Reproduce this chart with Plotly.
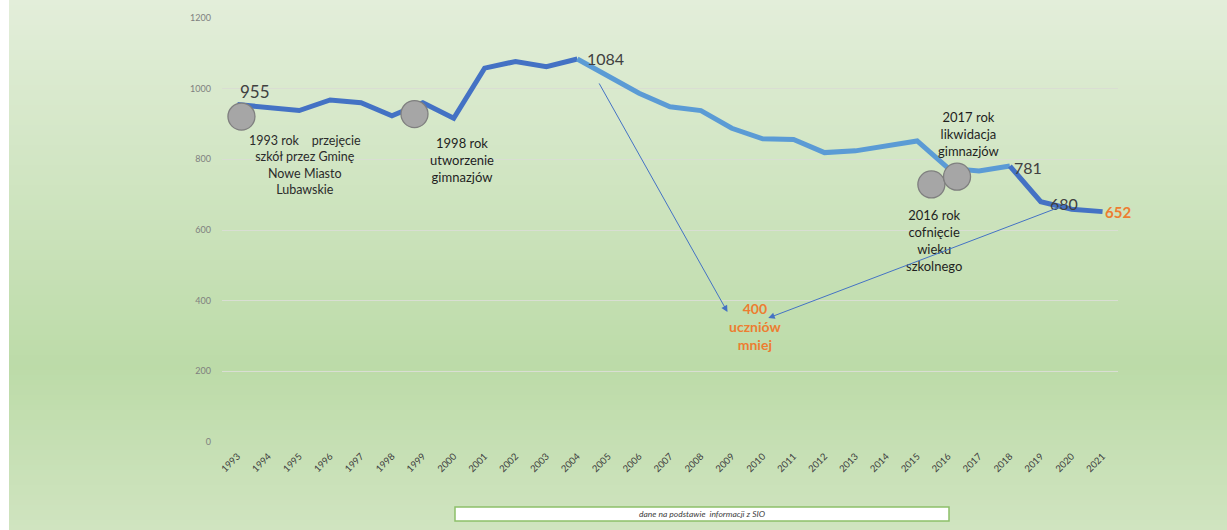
import plotly.graph_objects as go

# ---- data ----
years = list(range(1993, 2022))
students = [955, 948, 938, 968, 960, 923, 960, 916, 1058, 1077, 1062, 1084,
            1034, 987, 949, 938, 888, 858, 856, 819, 824, 838, 852,
            775, 767, 781, 680, 659, 652]
y_ticks = [0, 200, 400, 600, 800, 1000, 1200]

# line colouring periods (start year, end year, colour)
segments = [(1993, 2004, "#4472C4"), (2004, 2018, "#5B9BD5"), (2018, 2021, "#4472C4")]

# grey event markers (x, y)
event_x = [1993.13, 1998.73, 2015.46, 2016.29]
event_y = [921, 928, 729, 751]

# ---- layout geometry ----
W, H = 1227, 530
L, R, T, B = 222, 109, 18, 88
pw, ph = W - L - R, H - T - B

def px_x(px):
    return (px - L) / pw

def px_y(py):
    return (H - B - py) / ph

fig = go.Figure()

for (a, b, col) in segments:
    xs = [y for y in years if a <= y <= b]
    vs = [students[years.index(y)] for y in xs]
    fig.add_trace(go.Scatter(x=xs, y=vs, mode="lines",
                             line=dict(color=col, width=5),
                             hoverinfo="skip", showlegend=False))

fig.add_trace(go.Scatter(x=event_x, y=event_y, mode="markers",
                         marker=dict(size=27, color="#A6A6A6",
                                     line=dict(color="#7F7F7F", width=1.3)),
                         hoverinfo="skip", showlegend=False))

# ---- background gradient (vertical) ----
def lerp(c1, c2, t):
    return tuple(int(round(c1[i] + (c2[i] - c1[i]) * t)) for i in range(3))

stops = [(0, (227, 238, 218)), (367, (188, 219, 168)), (530, (208, 228, 192))]
shapes = []
step = 5
for y0 in range(0, H, step):
    ym = y0 + step / 2
    for k in range(len(stops) - 1):
        if stops[k][0] <= ym <= stops[k + 1][0]:
            t = (ym - stops[k][0]) / (stops[k + 1][0] - stops[k][0])
            c = lerp(stops[k][1], stops[k + 1][1], t)
            break
    shapes.append(dict(type="rect", xref="paper", yref="paper",
                       x0=px_x(9), x1=px_x(W + 2), y0=px_y(y0 + step + 0.5), y1=px_y(y0),
                       fillcolor="rgb(%d,%d,%d)" % c, line=dict(width=0), layer="below"))

# caption box
shapes.append(dict(type="rect", xref="paper", yref="paper",
                   x0=px_x(455), x1=px_x(949), y0=px_y(521), y1=px_y(507),
                   fillcolor="white", line=dict(color="#8DC06A", width=1.5), layer="above"))

FONT = "Lato, 'Open Sans', sans-serif"
dark = "#404040"
orange = "#ED7D31"

annotations = []

def txt(x, y, text, size=13, color="#262626", bold=False):
    annotations.append(dict(x=x, y=y, xref="x", yref="y", text=("<b>%s</b>" % text) if bold else text,
                            showarrow=False, align="center",
                            font=dict(family=FONT, size=size, color=color)))

txt(1993.58, 991, "955", 17, dark)
txt(2004.9, 1084, "1084", 16, dark)
txt(2018.6, 778, "781", 16, dark)
txt(2019.75, 676, "680", 16, dark)
txt(2021.5, 651, "652", 15, orange, bold=True)
txt(1995.2, 784, "1993 rok    przejęcie<br>szkół przez Gminę<br>Nowe Miasto<br>Lubawskie", 12.5, "#2b2b2b")
txt(2000.28, 798, "1998 rok<br>utworzenie<br>gimnazjów", 13, "#1f1f1f")
txt(2016.66, 872, "2017 rok<br>likwidacja<br>gimnazjów", 13, "#1f1f1f")
txt(2015.56, 569, "2016 rok<br>cofnięcie<br>wieku<br>szkolnego", 13, "#1f1f1f")
txt(2009.76, 328, "400<br>uczniów<br>mniej", 14, orange, bold=True)

# arrows
for (tx, ty, hx, hy) in [(2004.68, 1019, 2008.86, 368), (2019.89, 674, 2010.18, 351)]:
    annotations.append(dict(x=hx, y=hy, xref="x", yref="y", ax=tx, ay=ty,
                            axref="x", ayref="y", text="", showarrow=True,
                            arrowhead=2, arrowsize=1.3, arrowwidth=1,
                            arrowcolor="#4472C4"))

annotations.append(dict(x=px_x(702), y=px_y(514), xref="paper", yref="paper",
                        yanchor="middle", xanchor="center",
                        text="<i>dane na podstawie  informacji z SIO</i>", showarrow=False,
                        font=dict(family=FONT, size=8.5, color="#404040")))

fig.update_layout(
    width=W, height=H,
    margin=dict(l=L, r=R, t=T, b=B, pad=0),
    paper_bgcolor="white",
    plot_bgcolor="rgba(0,0,0,0)",
    shapes=shapes,
    annotations=annotations,
    showlegend=False,
    font=dict(family=FONT),
    xaxis=dict(range=[1992.5, 2021.5], tickmode="array", tickvals=years,
               ticktext=[str(y) for y in years], tickangle=-45,
               tickfont=dict(size=9.5, color="#404040", family=FONT),
               showgrid=False, zeroline=False, showline=False, ticks="",
               ticklabelstandoff=6),
    yaxis=dict(range=[0, 1200], tickmode="array", tickvals=y_ticks,
               tickfont=dict(size=9, color="#7F7F7F", family=FONT),
               showgrid=True, gridcolor="#D9DED3", gridwidth=1,
               zeroline=False, showline=False, ticks="", ticklabelstandoff=10),
)

fig.write_html("out.html", config={"displayModeBar": False},
               post_script="document.body.style.margin='0';document.body.style.overflow='hidden';")
